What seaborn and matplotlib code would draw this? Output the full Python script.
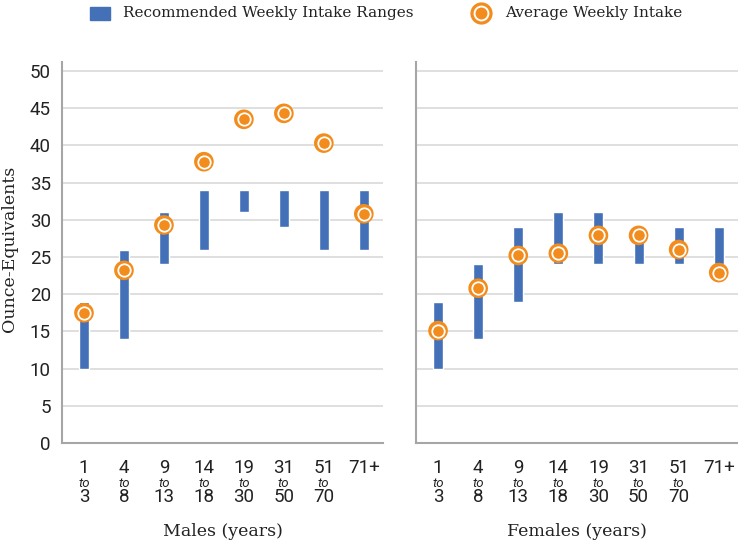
import numpy as np
import pandas as pd
import matplotlib.pyplot as plt
import seaborn as sns

# Data
age_top = ["1", "4", "9", "14", "19", "31", "51", "71+"]
age_bottom = ["3", "8", "13", "18", "30", "50", "70", ""]

male_low = [10, 14, 24, 26, 31, 29, 26, 26]
male_high = [19, 26, 31, 34, 34, 34, 34, 34]
male_avg = [17.5, 23.2, 29.3, 37.8, 43.5, 44.3, 40.3, 30.8]

female_low = [10, 14, 19, 24, 24, 24, 24, 24]
female_high = [19, 24, 29, 31, 31, 29, 29, 29]
female_avg = [15.1, 20.8, 25.2, 25.5, 27.9, 27.9, 26.0, 22.9]

BLUE = "#4470B8"
ORANGE = "#F28C1C"
GRID = "#D9D9D9"
SPINE = "#A6A6A6"
TEXT = "#222222"

sns.set_theme(style="white")
plt.rcParams["font.family"] = ["Roboto", "DejaVu Sans"]
SERIF = ["DejaVu Serif", "Liberation Serif"]

fig = plt.figure(figsize=(7.38, 5.45), dpi=100)
ax_m = fig.add_axes([62 / 738, 1 - 443 / 545, 321 / 738, 381 / 545])
ax_f = fig.add_axes([416 / 738, 1 - 443 / 545, 322 / 738, 381 / 545])


def draw_panel(ax, low, high, avg, title, show_y):
    x = np.arange(len(age_top))
    df = pd.DataFrame({"x": x, "avg": avg})
    ax.set_axisbelow(True)
    for yv in range(5, 55, 5):
        ax.axhline(yv, color=GRID, lw=1.2, zorder=0)
    ax.bar(x, np.array(high) - np.array(low), bottom=low, width=0.25,
           color=BLUE, zorder=2)
    sns.scatterplot(data=df, x="x", y="avg", ax=ax, s=200, color=ORANGE,
                    edgecolor="none", zorder=3, legend=False)
    sns.scatterplot(data=df, x="x", y="avg", ax=ax, s=80, color=ORANGE,
                    edgecolor="white", linewidth=1.3, zorder=4, legend=False)
    ax.set_xlim(-0.55, 7.48)
    ax.set_ylim(0, 51.2)
    ax.set_yticks(range(0, 55, 5))
    if show_y:
        ax.set_yticklabels([str(v) for v in range(0, 55, 5)], fontsize=13.5,
                           color=TEXT)
    else:
        ax.set_yticklabels([])
    ax.tick_params(axis="y", length=0, pad=8)
    ax.set_xticks([])
    ax.set_xlabel("")
    ax.set_ylabel("")
    for side in ["top", "right"]:
        ax.spines[side].set_visible(False)
    for side in ["left", "bottom"]:
        ax.spines[side].set_color(SPINE)
        ax.spines[side].set_linewidth(1.5)
    trans = ax.get_xaxis_transform()
    for i, (a, b) in enumerate(zip(age_top, age_bottom)):
        ax.text(i, -0.065, a, transform=trans, ha="center", va="center",
                fontsize=13.5, color=TEXT)
        if b:
            ax.text(i, -0.105, "to", transform=trans, ha="center",
                    va="center", fontsize=9.5, style="italic", color=TEXT)
            ax.text(i, -0.143, b, transform=trans, ha="center", va="center",
                    fontsize=13.5, color=TEXT)
    ax.text(0.5, -0.232, title, transform=ax.transAxes, ha="center",
            va="center", fontsize=12.5, family=SERIF, color=TEXT)


draw_panel(ax_m, male_low, male_high, male_avg, "Males (years)", True)
draw_panel(ax_f, female_low, female_high, female_avg, "Females (years)", False)

fig.text(10 / 738, 1 - 249 / 545, "Ounce-Equivalents", rotation=90,
         ha="center", va="center", fontsize=12.5, family=SERIF, color=TEXT)

# Legend
fig.patches.append(plt.Rectangle((90 / 738, 1 - 19.5 / 545), 20 / 738, 13 / 545,
                                 transform=fig.transFigure, color=BLUE))
fig.text(123 / 738, 1 - 13 / 545, "Recommended Weekly Intake Ranges",
         ha="left", va="center", fontsize=11, family=SERIF, color=TEXT)
fig.lines.append(plt.Line2D([481 / 738], [1 - 13 / 545], marker="o",
                            markersize=16, color=ORANGE, markeredgecolor="none",
                            transform=fig.transFigure))
fig.lines.append(plt.Line2D([481 / 738], [1 - 13 / 545], marker="o",
                            markersize=10, color=ORANGE, markeredgecolor="white",
                            markeredgewidth=1.4, transform=fig.transFigure))
fig.text(505 / 738, 1 - 13 / 545, "Average Weekly Intake",
         ha="left", va="center", fontsize=11, family=SERIF, color=TEXT)

fig.savefig("out.png", dpi=100)
